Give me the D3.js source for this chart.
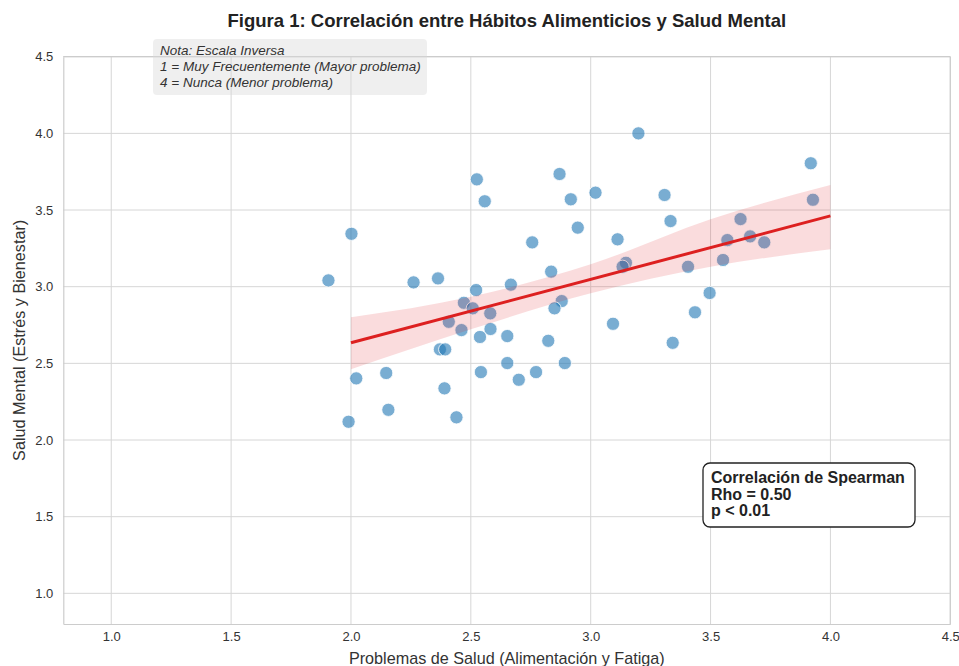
<!DOCTYPE html>
<html>
<head>
<meta charset="utf-8">
<script src="https://cdn.jsdelivr.net/npm/d3@7"></script>
<style>
	body { margin: 0; background: #fff; }
	svg text { font-family: "Liberation Sans", Arial, sans-serif; }
</style>
</head>
<body>
<svg id="chart" width="959" height="666"></svg>
<script>
// data (points are jittered in the original)
var xVals = [2.525, 2.558, 2.002, 1.906, 2.261, 2.363, 2.870, 2.917, 3.020, 2.946,
	2.756, 3.112, 2.522, 2.667, 2.835, 2.471, 2.508, 2.581, 2.408, 2.879,
	2.849, 2.461, 2.582, 2.538, 2.652, 2.371, 2.393, 2.823, 3.093, 2.022,
	2.147, 2.542, 2.652, 2.892, 2.772, 2.700, 2.390, 2.156, 1.990, 2.440,
	3.199, 3.308, 3.333, 3.147, 3.133, 3.406, 3.552, 3.570, 3.625, 3.665,
	3.724, 3.918, 3.927, 3.496, 3.435, 3.342];
var yVals = [3.700, 3.557, 3.345, 3.041, 3.028, 3.054, 3.735, 3.570, 3.613, 3.385,
	3.289, 3.309, 2.978, 3.013, 3.098, 2.895, 2.859, 2.826, 2.771, 2.906,
	2.859, 2.717, 2.724, 2.672, 2.678, 2.591, 2.591, 2.647, 2.758, 2.402,
	2.437, 2.443, 2.502, 2.502, 2.443, 2.393, 2.337, 2.197, 2.119, 2.148,
	4.000, 3.598, 3.428, 3.156, 3.130, 3.130, 3.174, 3.304, 3.441, 3.328,
	3.289, 3.805, 3.567, 2.959, 2.833, 2.634];

// regression line and its confidence band
var fitX = [2.0, 4.0];
var fitY = [2.634, 3.462];
var ciX = [2.0, 2.5, 3.0, 3.5, 4.0];
var ciLow = [2.461, 2.722, 2.957, 3.130, 3.244];
var ciHigh = [2.800, 2.934, 3.146, 3.440, 3.663];

var xTicks = [1.0, 1.5, 2.0, 2.5, 3.0, 3.5, 4.0, 4.5];
var yTicks = [1.0, 1.5, 2.0, 2.5, 3.0, 3.5, 4.0, 4.5];

var noteLines = ['Nota: Escala Inversa', '1 = Muy Frecuentemente (Mayor problema)', '4 = Nunca (Menor problema)'];
var statLines = ['Correlación de Spearman', 'Rho = 0.50', 'p < 0.01'];

var margin = {top: 56.7, right: 8.7, bottom: 42, left: 63.3};
var width = 959, height = 666;

var svg = d3.select('#chart');

var x = d3.scaleLinear().domain([0.8, 4.5]).range([margin.left, width - margin.right]);
var y = d3.scaleLinear().domain([0.8, 4.5]).range([height - margin.bottom, margin.top]);

// grid
var grid = svg.append('g');
grid.selectAll('.vx').data(xTicks).enter().append('line')
	.attr('x1', d => x(d)).attr('x2', d => x(d))
	.attr('y1', y(0.8)).attr('y2', y(4.5))
	.style('stroke', '#d6d6d6').style('stroke-width', 1);
grid.selectAll('.hy').data(yTicks).enter().append('line')
	.attr('x1', x(0.8)).attr('x2', x(4.5))
	.attr('y1', d => y(d)).attr('y2', d => y(d))
	.style('stroke', '#d6d6d6').style('stroke-width', 1);

// axes
var xAxis = g => g
	.attr('transform', `translate(0, ${y(0.8)})`)
	.call(d3.axisBottom(x).tickValues(xTicks).tickFormat(d3.format('.1f')).tickSize(0).tickPadding(8))
	.call(g => g.select('.domain').style('stroke', '#cccccc').style('stroke-width', 1.2));
var yAxis = g => g
	.attr('transform', `translate(${x(0.8)}, 0)`)
	.call(d3.axisLeft(y).tickValues(yTicks).tickFormat(d3.format('.1f')).tickSize(0).tickPadding(10))
	.call(g => g.select('.domain').style('stroke', '#cccccc').style('stroke-width', 1.2));
svg.append('g').call(xAxis);
svg.append('g').call(yAxis);
svg.selectAll('.tick text').style('font-size', '13px').style('fill', '#333');

// frame right/top
svg.append('line').attr('x1', x(4.5)).attr('x2', x(4.5)).attr('y1', y(0.8)).attr('y2', y(4.5))
	.style('stroke', '#cccccc').style('stroke-width', 1.2);
svg.append('line').attr('x1', x(0.8)).attr('x2', x(4.5)).attr('y1', y(4.5)).attr('y2', y(4.5))
	.style('stroke', '#cccccc').style('stroke-width', 1.2);

// scatter
var pts = xVals.map((v, i) => ({x: v, y: yVals[i]}));
svg.append('g').selectAll('circle').data(pts).enter().append('circle')
	.attr('cx', d => x(d.x))
	.attr('cy', d => y(d.y))
	.attr('r', 6.6)
	.style('fill', '#1f77b4')
	.style('fill-opacity', 0.6)
	.style('stroke', '#fff')
	.style('stroke-width', 0.8);

// confidence band
var band = ciX.map((v, i) => ({x: v, lo: ciLow[i], hi: ciHigh[i]}));
svg.append('path').datum(band)
	.attr('d', d3.area().curve(d3.curveMonotoneX).x(d => x(d.x)).y0(d => y(d.lo)).y1(d => y(d.hi)))
	.style('fill', '#e3232a')
	.style('fill-opacity', 0.16);

// regression line
var fit = fitX.map((v, i) => ({x: v, y: fitY[i]}));
svg.append('path').datum(fit)
	.attr('d', d3.line().x(d => x(d.x)).y(d => y(d.y)))
	.style('fill', 'none')
	.style('stroke', '#dd2020')
	.style('stroke-width', 3);

// title
svg.append('text')
	.attr('x', (x(0.8) + x(4.5)) / 2).attr('y', 27)
	.attr('text-anchor', 'middle')
	.style('font-size', '18.5px').style('font-weight', 'bold').style('fill', '#222')
	.text('Figura 1: Correlación entre Hábitos Alimenticios y Salud Mental');

// axis labels
svg.append('text')
	.attr('x', (x(0.8) + x(4.5)) / 2).attr('y', 664)
	.attr('text-anchor', 'middle')
	.style('font-size', '16.2px').style('fill', '#333')
	.text('Problemas de Salud (Alimentación y Fatiga)');
svg.append('text')
	.attr('transform', `translate(25, ${(y(0.8) + y(4.5)) / 2}) rotate(-90)`)
	.attr('text-anchor', 'middle')
	.style('font-size', '16.2px').style('fill', '#333')
	.text('Salud Mental (Estrés y Bienestar)');

// note box
var note = svg.append('g');
note.append('rect')
	.attr('x', 153).attr('y', 39).attr('width', 274).attr('height', 56).attr('rx', 4)
	.style('fill', '#d8d8d8').style('fill-opacity', 0.42);
note.selectAll('text').data(noteLines).enter().append('text')
	.attr('x', 160).attr('y', (d, i) => 55 + i * 16)
	.style('font-size', '13.5px').style('font-style', 'italic').style('fill', '#333')
	.text(d => d);

// stats box
var stat = svg.append('g');
stat.append('rect')
	.attr('x', 703).attr('y', 463).attr('width', 212).attr('height', 64).attr('rx', 7)
	.style('fill', '#fff').style('stroke', '#222').style('stroke-width', 1.3);
stat.selectAll('text').data(statLines).enter().append('text')
	.attr('x', 711).attr('y', (d, i) => 483 + i * 16.5)
	.style('font-size', '16px').style('font-weight', 'bold').style('fill', '#222')
	.text(d => d);
</script>
</body>
</html>
